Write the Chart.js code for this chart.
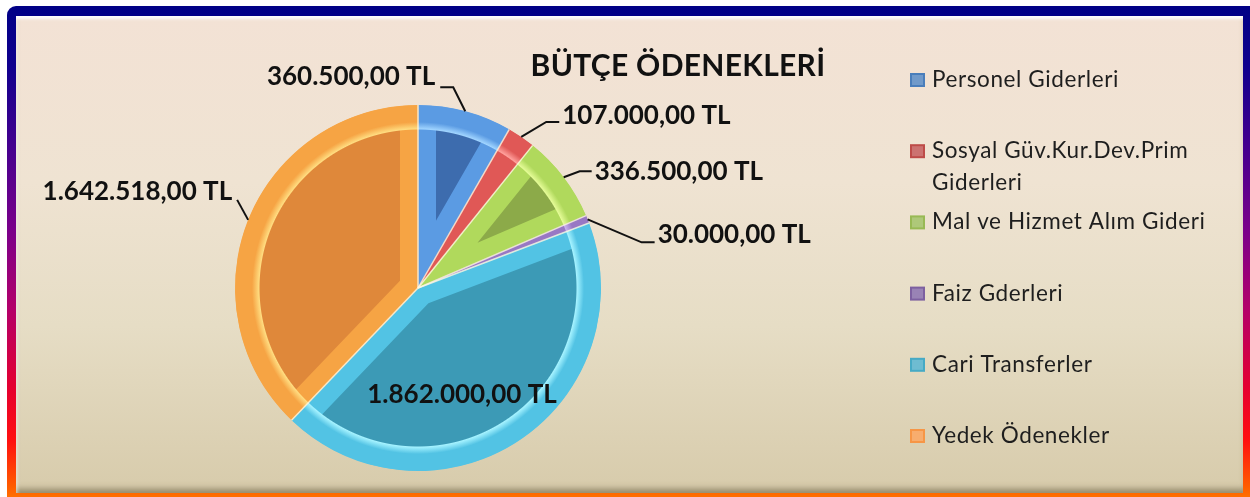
<!DOCTYPE html>
<html><head><meta charset="utf-8">
<script src="https://cdn.jsdelivr.net/npm/chart.js@4"></script>
<style>
html,body{margin:0;padding:0;background:#fff;width:1250px;height:497px;overflow:hidden;}
#frame{position:absolute;left:7px;top:6px;width:1265px;height:505px;border-radius:9px;
 background:linear-gradient(to bottom,#000086 0%,#10008e 12%,#45008f 28%,#7c008a 45%,#b3006a 60%,#e6002e 76%,#ff1010 86%,#ff5a00 95%,#ff8a00 100%);}
#panel{position:absolute;left:16px;top:16px;width:1227px;height:477px;
 background:linear-gradient(to bottom,#f3e2d5 0%,#efe3d2 35%,#e6ddc5 65%,#d7cbab 100%);
 box-shadow: inset 0 5px 3px -2px rgba(255,255,255,0.95), inset 4px 0 3px -2px rgba(255,255,255,0.45), inset 0 -7px 6px -3px rgba(110,100,70,0.65);}
canvas{position:absolute;left:0;top:0;}
</style></head>
<body>
<div id="frame"></div><div id="panel"></div>
<canvas id="c" width="1250" height="497"></canvas>
<script>
const categories = ['Personel Giderleri','Sosyal Güv.Kur.Dev.Prim Giderleri','Mal ve Hizmet Alım Gideri','Faiz Gderleri','Cari Transferler','Yedek Ödenekler'];
const amounts = [360500, 107000, 336500, 30000, 1862000, 1642518];
const valueLabels = ['360.500,00 TL','107.000,00 TL','336.500,00 TL','30.000,00 TL','1.862.000,00 TL','1.642.518,00 TL'];
const chartTitle = 'BÜTÇE ÖDENEKLERİ';

const fillColors   = ['#3d6cae','#bf3c38','#8caa49','#7a5ca6','#3c9ab6','#df883a'];
const rimColors    = ['#5b9be3','#e05856','#b0d95c','#9878c4','#52c3e4','#f6a444'];
const hiColors     = ['#a0d4ff','#ffa09c','#e4fb96','#c8b0ee','#a4f2ff','#ffdc80'];
const legendColors = ['#4a7ebb','#be4b48','#98b954','#7d60a0','#46aac5','#f79646'];

// label placement relative to the arc's outer mid point (styling, not data)
const labelLayout = [
  {leader:[[-12,-24],[-25,-24]], tx:-30, ty:-26, align:'right'},
  {leader:[[25,-15],[38,-15]],   tx:41,  ty:-13, align:'left'},
  {leader:[[16,-6],[28,-6]],     tx:31,  ty:3,   align:'left'},
  {leader:[[54,23],[67,23]],     tx:70,  ty:24,  align:'left'},
  {inside:true, cx:44, cy:115},
  {leader:[[-11,-20]],           tx:-16, ty:-20, align:'right'}
];

function pieGradient(ctx, i, inner){
  const chart = ctx.chart;
  const a = chart.chartArea;
  if(!a) return inner;
  const cx=(a.left+a.right)/2, cy=(a.top+a.bottom)/2;
  const R=Math.min(a.right-a.left,a.bottom-a.top)/2;
  const g=chart.ctx.createRadialGradient(cx,cy,0,cx,cy,R);
  g.addColorStop(0,inner);
  g.addColorStop((R-25)/R,inner);
  g.addColorStop((R-24)/R,hiColors[i]);
  g.addColorStop((R-17)/R,rimColors[i]);
  g.addColorStop((R-6)/R,rimColors[i]);
  g.addColorStop(1,rimColors[i]);
  return g;
}

const decorPlugin = {
  id:'decor',
  afterDatasetsDraw(chart){
    const ctx=chart.ctx;
    const arcs=chart.getDatasetMeta(0).data;
    ctx.save();
    ctx.strokeStyle='rgba(255,248,225,0.8)';
    ctx.lineWidth=1.5;
    arcs.forEach(a=>{
      ctx.beginPath();
      ctx.moveTo(a.x,a.y);
      ctx.lineTo(a.x+a.outerRadius*Math.cos(a.startAngle), a.y+a.outerRadius*Math.sin(a.startAngle));
      ctx.stroke();
    });
    ctx.font='bold 26px Lato';
    ctx.fillStyle='#111';
    ctx.strokeStyle='#111';
    ctx.lineWidth=2;
    ctx.textBaseline='alphabetic';
    arcs.forEach((a,i)=>{
      const L=labelLayout[i];
      if(L.inside){
        ctx.textAlign='center';
        ctx.fillText(valueLabels[i], a.x+L.cx, a.y+L.cy);
        return;
      }
      const mid=(a.startAngle+a.endAngle)/2;
      const px=a.x+a.outerRadius*Math.cos(mid), py=a.y+a.outerRadius*Math.sin(mid);
      ctx.beginPath();
      ctx.moveTo(px,py);
      L.leader.forEach(p=>ctx.lineTo(px+p[0],py+p[1]));
      ctx.stroke();
      ctx.textAlign=L.align;
      ctx.fillText(valueLabels[i], px+L.tx, py+L.ty);
    });
    ctx.restore();
  },
  afterDraw(chart){
    const ctx=chart.ctx;
    ctx.save();
    ctx.fillStyle='#111';
    ctx.font='bold 30px Lato';
    ctx.letterSpacing='0.3px';
    ctx.textAlign='center';
    ctx.textBaseline='alphabetic';
    ctx.fillText(chartTitle, 678, 76);
    ctx.font='22.5px Lato';
    ctx.letterSpacing='0.6px';
    ctx.textAlign='left';
    const maxW=300;
    chart.data.labels.forEach((lab,i)=>{
      const base=87+i*71.2;
      ctx.fillStyle=legendColors[i];
      ctx.fillRect(910,base-14,15,14);
      ctx.fillStyle='rgba(255,255,255,0.22)';
      ctx.fillRect(912,base-12,11,10);
      ctx.fillStyle='#1e1e1e';
      const words=lab.split(' ');
      let line='', y=base;
      words.forEach(w=>{
        const t=line?line+' '+w:w;
        if(ctx.measureText(t).width>maxW && line){
          ctx.fillText(line,932,y); line=w; y+=32;
        } else line=t;
      });
      ctx.fillText(line,932,y);
    });
    ctx.restore();
  }
};

new Chart(document.getElementById('c'),{
  type:'pie',
  data:{
    labels:categories,
    datasets:[{
      data:amounts,
      backgroundColor:(ctx)=>pieGradient(ctx,ctx.dataIndex,fillColors[ctx.dataIndex]),
      borderColor:(ctx)=>pieGradient(ctx,ctx.dataIndex,rimColors[ctx.dataIndex]),
      borderWidth:18,
      borderAlign:'inner'
    }]
  },
  options:{
    responsive:false,
    animation:false,
    events:[],
    layout:{padding:{left:235,right:649,top:105,bottom:26}},
    plugins:{legend:{display:false},tooltip:{enabled:false},title:{display:false}}
  },
  plugins:[decorPlugin]
});
</script>
</body></html>
